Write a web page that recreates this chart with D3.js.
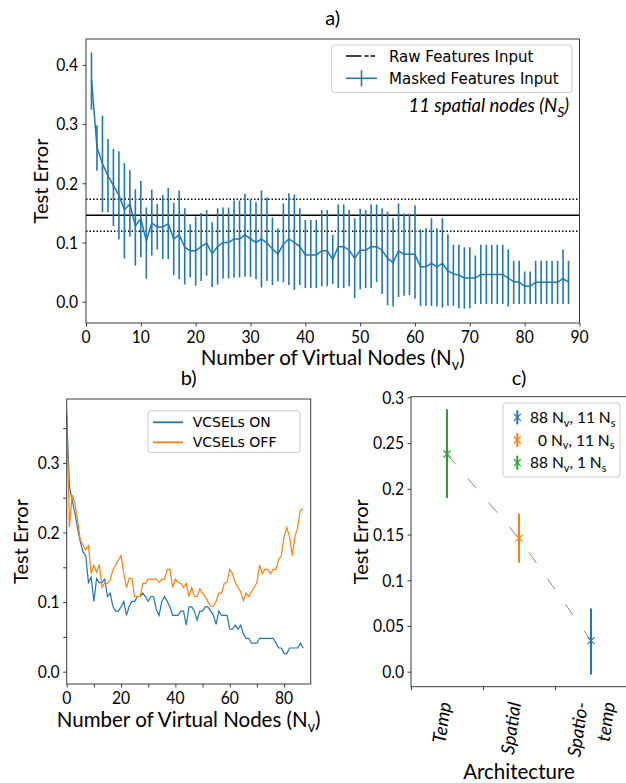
<!DOCTYPE html>
<html><head><meta charset="utf-8">
<script src="https://cdn.jsdelivr.net/npm/d3@7"></script>
<style>body{margin:0;background:#fff}svg{display:block}</style>
</head><body>
<svg id="c" width="626" height="783"></svg>
<script>
// ---------------- DATA ----------------
// Panel a: masked features input, test error vs number of virtual nodes
const nodesA = [1,2,3,4,5,6,7,8,9,10,11,12,13,14,15,16,17,18,19,20,21,22,23,24,25,26,27,28,29,30,
31,32,33,34,35,36,37,38,39,40,41,42,43,44,45,46,47,48,49,50,51,52,53,54,55,56,57,58,59,60,
61,62,63,64,65,66,67,68,69,70,71,72,73,74,75,76,77,78,79,80,81,82,83,84,85,86,87,88];
const meanA = [0.376,0.261,0.233,0.213,0.196,0.180,0.155,0.165,0.128,0.140,
0.103,0.133,0.126,0.126,0.132,0.106,0.113,0.092,0.086,0.086,
0.093,0.099,0.081,0.093,0.100,0.100,0.106,0.106,0.113,0.106,
0.100,0.106,0.099,0.089,0.081,0.097,0.106,0.100,0.093,0.079,
0.079,0.079,0.086,0.086,0.071,0.093,0.093,0.087,0.073,0.087,
0.087,0.093,0.093,0.087,0.073,0.066,0.086,0.080,0.080,0.080,
0.059,0.059,0.065,0.059,0.065,0.052,0.047,0.045,0.040,0.040,
0.040,0.046,0.046,0.046,0.046,0.046,0.040,0.034,0.033,0.026,
0.026,0.033,0.033,0.033,0.033,0.033,0.039,0.033];
const upperA = [0.421,0.298,0.314,0.275,0.258,0.254,0.234,0.222,0.190,0.204,
0.159,0.189,0.165,0.180,0.192,0.167,0.188,0.158,0.131,0.144,
0.150,0.155,0.134,0.158,0.159,0.159,0.171,0.171,0.182,0.172,
0.168,0.188,0.176,0.142,0.124,0.166,0.183,0.181,0.158,0.138,
0.138,0.138,0.155,0.155,0.113,0.164,0.164,0.155,0.141,0.157,
0.155,0.164,0.164,0.158,0.152,0.141,0.166,0.149,0.149,0.163,
0.122,0.124,0.141,0.124,0.141,0.114,0.096,0.096,0.092,0.092,
0.078,0.096,0.096,0.096,0.096,0.096,0.088,0.069,0.069,0.051,
0.051,0.069,0.069,0.069,0.069,0.069,0.088,0.069];
const lowerA = [0.324,0.221,0.151,0.151,0.128,0.105,0.073,0.110,0.061,0.075,
0.039,0.078,0.088,0.072,0.072,0.045,0.038,0.029,0.041,0.027,
0.035,0.044,0.025,0.029,0.039,0.039,0.041,0.041,0.042,0.042,
0.038,0.024,0.035,0.028,0.034,0.033,0.028,0.020,0.028,0.023,
0.023,0.023,0.026,0.026,0.030,0.023,0.023,0.026,0.006,0.021,
0.023,0.023,0.033,0.013,-0.006,-0.008,0.008,0.010,0.011,0.005,
-0.007,-0.007,-0.007,-0.008,-0.010,-0.007,-0.007,-0.011,-0.012,-0.011,
-0.004,-0.004,-0.004,-0.004,-0.004,-0.004,-0.008,-0.004,-0.004,-0.004,
-0.004,-0.004,-0.004,-0.004,-0.004,-0.004,-0.004,-0.004];
// Raw features input reference (mean and band)
const rawMean = 0.146, rawLow = 0.119, rawHigh = 0.173;

// Panel b: VCSELs ON / OFF
const nodesB = [0,1,2,3,4,5,6,7,8,9,10,11,12,13,14,15,16,17,18,19,20,21,22,23,24,25,26,27,28,29,
30,31,32,33,34,35,36,37,38,39,40,41,42,43,44,45,46,47,48,49,50,51,52,53,54,55,56,57,58,59,
60,61,62,63,64,65,66,67,68,69,70,71,72,73,74,75,76,77,78,79,80,81,82,83,84,85,86,87];
const onB = [0.370,0.266,0.247,0.228,0.206,0.187,0.172,0.167,0.128,0.136,
0.101,0.134,0.128,0.128,0.133,0.108,0.113,0.094,0.087,0.087,
0.093,0.101,0.081,0.094,0.101,0.101,0.108,0.108,0.113,0.108,
0.101,0.108,0.108,0.089,0.081,0.101,0.108,0.101,0.093,0.081,
0.081,0.081,0.087,0.087,0.067,0.093,0.093,0.087,0.074,0.087,
0.087,0.093,0.093,0.087,0.081,0.068,0.087,0.081,0.081,0.081,
0.061,0.061,0.067,0.061,0.067,0.055,0.048,0.048,0.041,0.041,
0.041,0.048,0.048,0.048,0.048,0.048,0.048,0.041,0.034,0.034,
0.026,0.026,0.034,0.034,0.034,0.034,0.041,0.034];
const offB = [0.376,0.208,0.254,0.242,0.218,0.189,0.182,0.175,0.181,0.141,
0.153,0.143,0.154,0.121,0.128,0.127,0.132,0.146,0.153,0.160,
0.167,0.141,0.121,0.134,0.134,0.108,0.108,0.108,0.127,0.127,
0.133,0.133,0.133,0.133,0.128,0.133,0.133,0.147,0.147,0.121,
0.133,0.128,0.127,0.121,0.127,0.108,0.121,0.108,0.108,0.119,
0.113,0.108,0.100,0.094,0.094,0.101,0.113,0.113,0.127,0.128,
0.147,0.141,0.128,0.121,0.115,0.102,0.113,0.108,0.115,0.121,
0.128,0.153,0.141,0.147,0.147,0.141,0.147,0.147,0.161,0.167,
0.194,0.207,0.194,0.167,0.194,0.207,0.232,0.234];

// Panel c: architecture comparison
const archNames = ["Temp", "Spatial", "Spatio-temp"];
const archPos = [0.5, 1.5, 2.5];
const archMean = [0.238, 0.146, 0.034];
const archLow = [0.190, 0.119, -0.003];
const archHigh = [0.287, 0.173, 0.069];
const archColor = ["#2ca02c", "#ff7f0e", "#1f77b4"];
const legendC = [
  {color:"#1f77b4", parts:["88 N", {sub:"v"}, ", 11 N", {sub:"s"}]},
  {color:"#ff7f0e", parts:["0 N", {sub:"v"}, ", 11 N", {sub:"s"}]},
  {color:"#2ca02c", parts:["88 N", {sub:"v"}, ", 1 N", {sub:"s"}]}
];

// ticks
const aXTicks = [0,10,20,30,40,50,60,70,80,90];
const aYTicks = [0,0.1,0.2,0.3,0.4];
const bXTicks = [0,10,20,30,40,50,60,70,80];
const bXLabels = [0,20,40,60,80];
const bYTicks = [0,0.05,0.1,0.15,0.2,0.25,0.3,0.35];
const bYLabels = [0,0.1,0.2,0.3];
const cYTicks = [0,0.05,0.1,0.15,0.2,0.25,0.3];
const cYLabels = ["0.0","0.05","0.1","0.15","0.2","0.25","0.3"];

// ---------------- DRAWING ----------------
const svg = d3.select('#c');
const LATO = "Lato, 'Open Sans', sans-serif";
const DJV = "'DejaVu Sans', sans-serif";
const BLUE = "#1f77b4", ORANGE = "#ff7f0e";
const SPINE = "#3a3a3a";
const TK = {size: 18, sq: 0.87};   // tick label style

function label(g, x, y, parts, o = {}) {
  const size = o.size || 18;
  const t = g.append('text')
    .attr('transform', `translate(${x},${y}) scale(${o.sq || 1},1) rotate(${o.rot || 0})`)
    .attr('text-anchor', o.anchor || 'middle')
    .attr('font-family', o.family || LATO)
    .attr('font-size', size)
    .attr('font-style', o.italic ? 'italic' : 'normal')
    .attr('fill', o.fill || '#000');
  if (typeof parts === 'string') parts = [parts];
  let shifted = false;
  parts.forEach(p => {
    const sub = typeof p !== 'string';
    const ts = t.append('tspan').text(sub ? p.sub : p);
    if (sub) { ts.attr('font-size', size * (o.subScale || 0.7)).attr('dy', size * 0.25); shifted = true; }
    else if (shifted) { ts.attr('dy', -size * 0.25); shifted = false; }
  });
  return t;
}
function tickLinesX(g, scale, ticks, y, len) {
  g.append('g').attr('transform', `translate(0,${y})`)
    .call(d3.axisBottom(scale).tickValues(ticks).tickSize(len).tickFormat(() => ''))
    .call(s => s.select('.domain').remove())
    .selectAll('line').attr('stroke', SPINE).attr('stroke-width', 1);
}
function tickLinesY(g, scale, ticks, x, len) {
  g.append('g').attr('transform', `translate(${x},0)`)
    .call(d3.axisLeft(scale).tickValues(ticks).tickSize(len).tickFormat(() => ''))
    .call(s => s.select('.domain').remove())
    .selectAll('line').attr('stroke', SPINE).attr('stroke-width', 1);
}
function frame(g, x0, y0, x1, y1) {
  g.append('rect').attr('x', x0).attr('y', y0).attr('width', x1 - x0).attr('height', y1 - y0)
    .attr('fill', 'none').attr('stroke', SPINE).attr('stroke-width', 1);
}
function legendBox(g, x, y, w, h) {
  g.append('rect').attr('x', x).attr('y', y).attr('width', w).attr('height', h).attr('rx', 3)
    .attr('fill', '#fff').attr('fill-opacity', 0.85).attr('stroke', '#cccccc').attr('stroke-width', 1);
}
const f1 = d3.format('.1f');

// ===== Panel a =====
{
  const L = 86, R = 579.5, T = 39, B = 323;
  const x = d3.scaleLinear().domain([0, 90]).range([L, R]);
  const y = d3.scaleLinear().domain([-0.036, 0.4437]).range([B, T]);
  const g = svg.append('g');
  g.append('clipPath').attr('id', 'clipA').append('rect')
    .attr('x', L).attr('y', T).attr('width', R - L).attr('height', B - T);
  const p = g.append('g').attr('clip-path', 'url(#clipA)');
  p.append('line').attr('x1', L).attr('x2', R).attr('y1', y(rawMean)).attr('y2', y(rawMean))
    .attr('stroke', '#000').attr('stroke-width', 1.5);
  [rawLow, rawHigh].forEach(v => p.append('line').attr('x1', L).attr('x2', R)
    .attr('y1', y(v)).attr('y2', y(v)).attr('stroke', '#000').attr('stroke-width', 1.5)
    .attr('stroke-dasharray', '1.5,2'));
  p.selectAll('line.eb').data(nodesA).join('line').attr('class', 'eb')
    .attr('x1', d => x(d)).attr('x2', d => x(d))
    .attr('y1', (d, i) => y(upperA[i])).attr('y2', (d, i) => y(lowerA[i]))
    .attr('stroke', BLUE).attr('stroke-width', 1.6);
  p.append('path').datum(nodesA)
    .attr('d', d3.line().x(d => x(d)).y((d, i) => y(meanA[i])))
    .attr('fill', 'none').attr('stroke', BLUE).attr('stroke-width', 1.5);
  frame(g, L, T, R, B);
  tickLinesX(g, x, aXTicks, B, 3.5);
  tickLinesY(g, y, aYTicks, L, 3.5);
  aXTicks.forEach(t => label(g, x(t), 342.5, String(t), TK));
  aYTicks.forEach(t => label(g, L - 8, y(t) + 6.3, f1(t), {...TK, anchor: 'end'}));
  label(g, (L + R) / 2, 365, ["Number of Virtual Nodes (N", {sub: "v"}, ")"], {size: 20.5});
  label(g, 48, (T + B) / 2, "Test Error", {size: 20, rot: -90});
  label(g, (L + R) / 2, 25, "a)", {size: 20});
  // legend
  legendBox(g, 331.7, 45, 240.3, 47.7);
  const r1 = 56, r2 = 78.3;
  g.append('line').attr('x1', 346).attr('x2', 361.5).attr('y1', r1).attr('y2', r1).attr('stroke', '#000').attr('stroke-width', 1.5);
  [[364.5, 368.5], [370.5, 375]].forEach(s => g.append('line').attr('x1', s[0]).attr('x2', s[1])
    .attr('y1', r1).attr('y2', r1).attr('stroke', '#000').attr('stroke-width', 1.5));
  label(g, 389, r1 + 5.5, "Raw Features Input", {size: 15, anchor: 'start', family: DJV});
  g.append('line').attr('x1', 346).attr('x2', 377).attr('y1', r2).attr('y2', r2).attr('stroke', BLUE).attr('stroke-width', 1.6);
  g.append('line').attr('x1', 361.5).attr('x2', 361.5).attr('y1', r2 - 8).attr('y2', r2 + 8).attr('stroke', BLUE).attr('stroke-width', 1.6);
  label(g, 389, r2 + 5.5, "Masked Features Input", {size: 15, anchor: 'start', family: DJV});
  label(g, 569, 112, ["11 spatial nodes (N", {sub: "S"}, ")"], {size: 18.5, anchor: 'end', italic: true, subScale: 0.75});
}

// ===== Panel b =====
{
  const L = 66.7, R = 310.7, T = 399, B = 684;
  const x = d3.scaleLinear().domain([0, 89.8]).range([L, R]);
  const y = d3.scaleLinear().domain([-0.0177, 0.3918]).range([B, T]);
  const g = svg.append('g');
  g.append('clipPath').attr('id', 'clipB').append('rect')
    .attr('x', L).attr('y', T).attr('width', R - L).attr('height', B - T);
  const p = g.append('g').attr('clip-path', 'url(#clipB)');
  const ln = arr => d3.line().x(d => x(d)).y((d, i) => y(arr[i]));
  p.append('path').datum(nodesB).attr('d', ln(onB)).attr('fill', 'none').attr('stroke', BLUE).attr('stroke-width', 1.2);
  p.append('path').datum(nodesB).attr('d', ln(offB)).attr('fill', 'none').attr('stroke', ORANGE).attr('stroke-width', 1.2);
  frame(g, L, T, R, B);
  tickLinesX(g, x, bXTicks, B, 3.5);
  tickLinesY(g, y, bYTicks, L, 3.5);
  bXLabels.forEach(t => label(g, x(t), 704, String(t), TK));
  bYLabels.forEach(t => label(g, L - 7, y(t) + 6.3, f1(t), {...TK, anchor: 'end'}));
  label(g, (L + R) / 2, 727, ["Number of Virtual Nodes (N", {sub: "v"}, ")"], {size: 20.5});
  label(g, 28, (T + B) / 2, "Test Error", {size: 20, rot: -90});
  label(g, (L + R) / 2, 385, "b)", {size: 20});
  legendBox(g, 148, 410.7, 152, 42);
  [[422.3, BLUE, "VCSELs ON"], [442.3, ORANGE, "VCSELs OFF"]].forEach(r => {
    g.append('line').attr('x1', 153).attr('x2', 183).attr('y1', r[0]).attr('y2', r[0]).attr('stroke', r[1]).attr('stroke-width', 1.8);
    label(g, 192.7, r[0] + 5, r[2], {size: 14, anchor: 'start', family: DJV});
  });
}

// ===== Panel c =====
{
  const L = 411, R = 627, T = 396.7, B = 686.7;
  const x = d3.scaleLinear().domain([0, 3]).range([L, R]);
  const y = d3.scaleLinear().domain([-0.0164, 0.3007]).range([B, T]);
  const g = svg.append('g');
  g.append('path').datum(archPos)
    .attr('d', d3.line().x(d => x(d)).y((d, i) => y(archMean[i])))
    .attr('fill', 'none').attr('stroke', '#8a8a8a').attr('stroke-width', 1)
    .attr('stroke-dasharray', '13,19');
  archPos.forEach((d, i) => {
    g.append('line').attr('x1', x(d)).attr('x2', x(d)).attr('y1', y(archHigh[i])).attr('y2', y(archLow[i]))
      .attr('stroke', archColor[i]).attr('stroke-width', 2);
    const cx = x(d), cy = y(archMean[i]), s = 3.5;
    g.append('path').attr('d', `M${cx - s},${cy - s}L${cx + s},${cy + s}M${cx - s},${cy + s}L${cx + s},${cy - s}`)
      .attr('stroke', archColor[i]).attr('stroke-width', 1.2);
  });
  frame(g, L, T, R, B);
  tickLinesX(g, x, [0, 1, 2], B, 3.5);
  tickLinesY(g, y, cYTicks, L, 3.5);
  cYTicks.forEach((t, i) => label(g, L - 7, y(t) + 6.3, cYLabels[i], {...TK, anchor: 'end'}));
  const rl = {size: 18.5, rot: -82, anchor: 'end', italic: true};
  label(g, x(archPos[0]) + 4, 703, archNames[0], rl);
  label(g, x(archPos[1]) + 2, 703, archNames[1], rl);
  const st = archNames[2].split('-');
  label(g, x(archPos[2]) - 3, 703, st[0] + '-', rl);
  label(g, x(archPos[2]) + 24, 703, st[1], rl);
  label(g, (L + R) / 2, 779, "Architecture", {size: 20.5});
  label(g, 368, (T + B) / 2, "Test Error", {size: 20, rot: -90});
  label(g, (L + R) / 2, 385, "c)", {size: 20});
  legendBox(g, 503, 403, 117, 74);
  const rows = [417.3, 440, 462.7];
  legendC.forEach((e, i) => {
    const cy = rows[i], cx = 517.3, s = 3.5;
    g.append('line').attr('x1', cx).attr('x2', cx).attr('y1', cy - 7).attr('y2', cy + 7).attr('stroke', e.color).attr('stroke-width', 2);
    g.append('path').attr('d', `M${cx - s},${cy - s}L${cx + s},${cy + s}M${cx - s},${cy + s}L${cx + s},${cy - s}`)
      .attr('stroke', e.color).attr('stroke-width', 1.2);
    label(g, i === 1 ? 538 : 530, cy + 5.5, e.parts, {size: 15.5, anchor: 'start'});
  });
}
</script>
</body></html>
